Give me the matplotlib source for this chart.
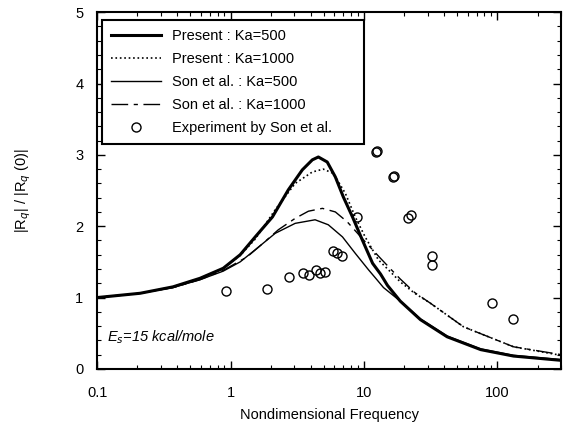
import numpy as np
import matplotlib
matplotlib.use("Agg")
import matplotlib.pyplot as plt
from matplotlib.ticker import MultipleLocator, LogLocator, NullFormatter, FixedLocator, FixedFormatter

plt.rcParams['font.family'] = ['Liberation Sans', 'DejaVu Sans']

# Present : Ka=500
x_p500 = [0.1, 0.21, 0.37, 0.59, 0.88, 1.18, 1.53, 2.06, 2.71, 3.45, 4.1, 4.55, 5.3, 6.1, 7.0, 8.2, 9.7, 11.6, 13.3, 15, 18.7, 26.5, 42, 75, 132, 300]
y_p500 = [1.0, 1.06, 1.15, 1.27, 1.41, 1.60, 1.85, 2.13, 2.51, 2.79, 2.93, 2.97, 2.90, 2.69, 2.41, 2.13, 1.81, 1.48, 1.33, 1.17, 0.95, 0.69, 0.45, 0.27, 0.18, 0.12]

# Present : Ka=1000
x_p1000 = [0.1, 0.21, 0.37, 0.59, 0.88, 1.18, 1.53, 2.16, 3.05, 4.1, 4.95, 5.9, 7.25, 8.6, 10.2, 12.8, 15.8, 18.7, 24, 31.5, 55.7, 132, 300]
y_p1000 = [1.0, 1.06, 1.15, 1.27, 1.41, 1.59, 1.82, 2.23, 2.60, 2.76, 2.80, 2.74, 2.46, 2.13, 1.85, 1.53, 1.36, 1.22, 1.06, 0.92, 0.59, 0.31, 0.19]

# Son et al. : Ka=500
x_s500 = [0.1, 0.21, 0.37, 0.59, 0.88, 1.18, 1.53, 2.16, 3.05, 4.3, 5.4, 6.9, 8.6, 10.8, 12.5, 14, 18.7, 26.5, 42, 75, 132, 300]
y_s500 = [1.0, 1.06, 1.14, 1.25, 1.37, 1.50, 1.67, 1.90, 2.04, 2.09, 2.02, 1.85, 1.62, 1.39, 1.25, 1.14, 0.95, 0.70, 0.46, 0.28, 0.19, 0.13]

# Son et al. : Ka=1000
x_s1000 = [0.1, 0.21, 0.37, 0.59, 0.88, 1.33, 1.75, 2.28, 3.05, 3.83, 4.88, 6.1, 7.5, 10, 13.3, 16.6, 18.7, 24, 31.5, 55.7, 132, 300]
y_s1000 = [1.0, 1.06, 1.14, 1.25, 1.38, 1.57, 1.76, 1.95, 2.11, 2.21, 2.25, 2.20, 2.06, 1.80, 1.55, 1.36, 1.26, 1.07, 0.92, 0.59, 0.31, 0.20]

# Experiment by Son et al.
x_exp = [0.93, 1.86, 2.75, 3.5, 3.9, 4.4, 4.7, 5.1, 5.9, 6.3, 6.9, 8.9, 12.2, 12.5, 16.6, 16.8, 21.2, 22.4, 32.6, 32.6, 91.8, 132]
y_exp = [1.09, 1.12, 1.29, 1.34, 1.31, 1.39, 1.35, 1.36, 1.65, 1.62, 1.58, 2.13, 3.04, 3.05, 2.69, 2.70, 2.11, 2.16, 1.58, 1.46, 0.92, 0.70]

fig = plt.figure(figsize=(5.65, 4.34), dpi=100)
ax = fig.add_axes([0.172, 0.150, 0.821, 0.822])

ax.plot(x_p500, y_p500, '-', color='black', lw=2.2, label='Present : Ka=500')
ax.plot(x_p1000, y_p1000, ':', color='black', lw=1.2, label='Present : Ka=1000')
ax.plot(x_s500, y_s500, '-', color='black', lw=1.0, label='Son et al. : Ka=500')
ax.plot(x_s1000, y_s1000, color='black', lw=1.0, linestyle=(0, (12, 4, 3, 4)), label='Son et al. : Ka=1000')
ax.plot(x_exp, y_exp, 'o', mfc='none', mec='black', ms=6.5, mew=1.0, label='Experiment by Son et al.')

ax.set_xscale('log')
ax.set_xlim(0.1, 300)
ax.set_ylim(0, 5)
ax.xaxis.set_major_locator(FixedLocator([0.1, 1, 10, 100]))
ax.xaxis.set_major_formatter(FixedFormatter(['0.1', '1', '10', '100']))
ax.xaxis.set_minor_locator(LogLocator(base=10, subs=np.arange(2, 10)))
ax.xaxis.set_minor_formatter(NullFormatter())
ax.yaxis.set_major_locator(MultipleLocator(1))
ax.yaxis.set_minor_locator(MultipleLocator(0.2))
ax.tick_params(which='both', direction='in', top=True, right=True, labelsize=10.5)
ax.tick_params(which='major', length=6, width=1)
ax.tick_params(which='minor', length=3, width=0.8)
ax.tick_params(axis='x', which='major', pad=12)
ax.tick_params(axis='y', which='major', pad=10)
for s in ax.spines.values():
    s.set_linewidth(1.5)

ax.set_xlabel('Nondimensional Frequency', fontsize=10.5, labelpad=6)
ax.set_ylabel('|R$_q$| / |R$_q$ (0)|', fontsize=10.5, labelpad=30)

ax.text(0.118, 0.45, 'E$_s$=15 kcal/mole', fontsize=10.5, style='italic', va='center')

# legend box spans roughly x 102-364 px, y 20-139 px in the reference
leg = ax.legend(loc='upper left', bbox_to_anchor=(0.011, 0.644, 0.564, 0.334), mode='expand',
                fontsize=10.5, handlelength=3.4, labelspacing=0.62, borderpad=0.6,
                fancybox=False, framealpha=1, borderaxespad=0)
leg.get_frame().set_edgecolor('black')
leg.get_frame().set_linewidth(1.5)

fig.savefig('out.png', dpi=100)
